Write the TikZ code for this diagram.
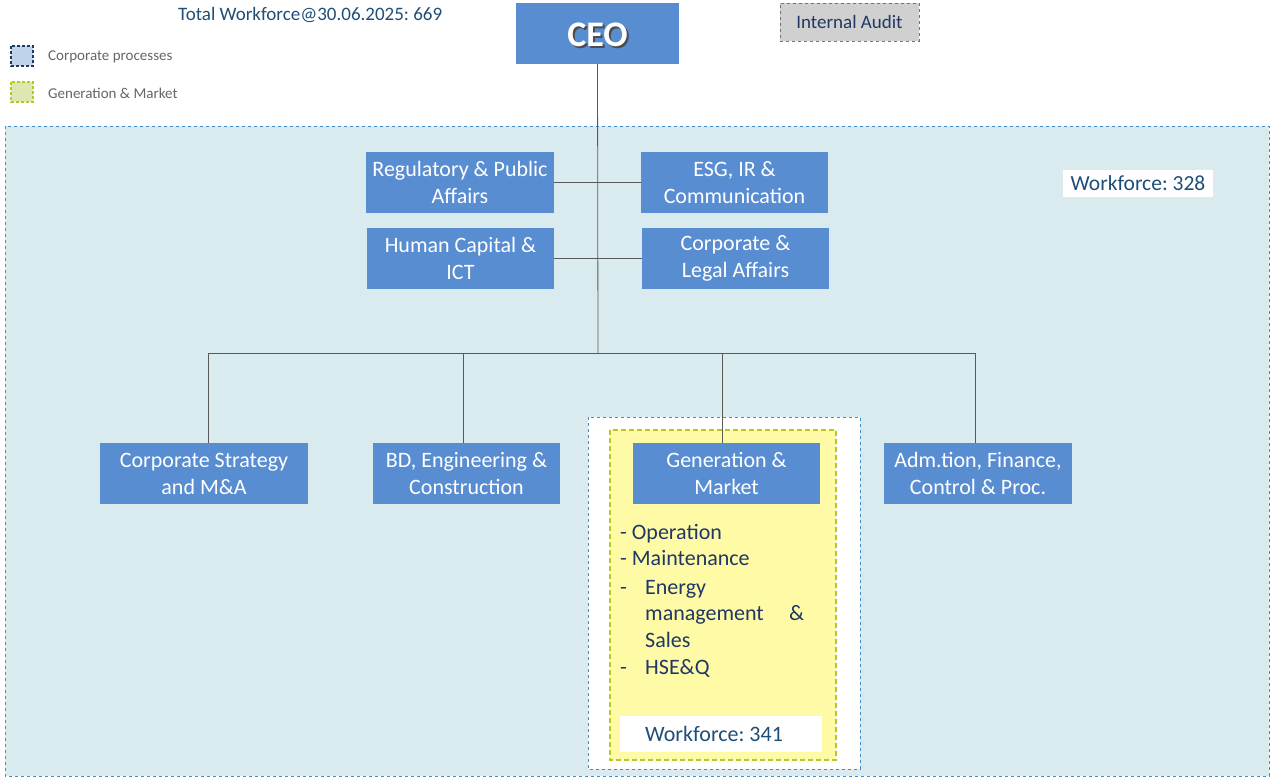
\documentclass[tikz,border=0pt]{standalone}
\usepackage{fontspec}
\setmainfont{Carlito}
\frenchspacing
\definecolor{boxblue}{RGB}{88,141,210}
\definecolor{bgcyan}{RGB}{218,235,239}
\definecolor{navy}{RGB}{31,56,100}
\definecolor{titleblue}{RGB}{31,78,121}
\definecolor{dashblue}{RGB}{70,140,200}
\definecolor{ylw}{RGB}{255,250,165}
\definecolor{ylwline}{RGB}{180,200,40}
\definecolor{lgray}{RGB}{208,208,208}
\definecolor{legblue}{RGB}{190,212,235}
\definecolor{leggreen}{RGB}{220,232,175}
\begin{document}
\begin{tikzpicture}[x=1pt,y=-1pt,
  unit/.style={fill=boxblue,text=white,font=\fontsize{22}{27}\selectfont,align=center,inner sep=0pt},
  conn/.style={draw=black!65,line width=0.8pt},
  listtxt/.style={text=navy,font=\fontsize{22}{26}\selectfont,anchor=base west,inner sep=0pt}]
\useasboundingbox (0,0) rectangle (1271,778);
\fill[white] (0,0) rectangle (1271,778);
% big corporate area
\draw[fill=bgcyan,draw=dashblue,dashed,line width=0.8pt] (5,126) rectangle (1269,776);
% title and legend
\node[text=titleblue,font=\fontsize{19}{22}\selectfont,anchor=west,inner sep=0pt] (title) at (178,15) {Total Workforce@30.06.2025: 669};
\draw[fill=legblue,draw=navy,dashed,line width=1.3pt,dash pattern=on 3pt off 2pt] (11,46) rectangle (33,66);
\draw[fill=leggreen,draw=ylwline,dashed,line width=1.3pt,dash pattern=on 3pt off 2pt] (11,82) rectangle (33,102);
\node[text=black!60,font=\fontsize{15}{17}\selectfont,anchor=west,inner sep=0pt] (lg1) at (48,57) {Corporate processes};
\node[text=black!60,font=\fontsize{15}{17}\selectfont,anchor=west,inner sep=0pt] (lg2) at (48,93) {Generation \& Market};
% CEO
\node[fill=boxblue,minimum width=163pt,minimum height=61pt,inner sep=0pt] (ceo) at (597.5,33.5) {};
\node[text=black!70,font=\fontsize{36}{40}\selectfont\bfseries] (ceoshadow) at (599.5,36.5) {CEO};
\node[text=white,font=\fontsize{36}{40}\selectfont\bfseries] (ceotext) at (597.5,34.5) {CEO};
% Internal audit
\node[fill=lgray,draw=black!55,dashed,line width=0.8pt,minimum width=139pt,minimum height=38pt,inner sep=0pt,text=navy,font=\fontsize{19}{22}\selectfont] (audit) at (849.5,22) {Internal Audit};
% staff units
\node[unit,minimum width=188pt,minimum height=61pt] (reg) at (460,182.5) {Regulatory \& Public\\Affairs};
\node[unit,minimum width=187pt,minimum height=61pt] (esg) at (734.5,182.5) {ESG, IR \&\\Communication};
\node[unit,minimum width=187pt,minimum height=61pt] (hc) at (460.5,258.5) {Human Capital \&\\ICT};
\node[unit,minimum width=187pt,minimum height=61pt] (cla) at (735.5,258.5) {Corporate \&\\Legal Affairs};
% workforce 328
\node[fill=white,text=titleblue,font=\fontsize{21.5}{24}\selectfont,minimum width=150pt,minimum height=27pt,inner sep=0pt] (wf328) at (1138,183.5) {Workforce: 328};
% white dashed container and yellow
\draw[fill=white,draw=dashblue,dashed,line width=0.8pt] (588,417) rectangle (860,769);
\draw[fill=ylw,draw=ylwline,dashed,line width=1.5pt,dash pattern=on 5pt off 3pt] (610,430) rectangle (836,760);
% bottom row
\node[unit,minimum width=208pt,minimum height=61pt] (cs) at (204,473.5) {Corporate Strategy\\and M\&A};
\node[unit,minimum width=187pt,minimum height=61pt] (bd) at (466.5,473.5) {BD, Engineering \&\\Construction};
\node[unit,minimum width=187pt,minimum height=61pt] (gm) at (726.5,473.5) {Generation \&\\Market};
\node[unit,minimum width=188pt,minimum height=61pt] (adm) at (978,473.5) {Adm.tion, Finance,\\Control \& Proc.};
% list
\node[listtxt] (l1) at (620,539) {- Operation};
\node[listtxt] (l2) at (620,565) {- Maintenance};
\node[listtxt] (l3) at (620,594) {-};
\node[listtxt] (l3b) at (645,594) {Energy};
\node[listtxt] (l4) at (645,620) {management};
\node[listtxt] (l4b) at (789,620) {\&};
\node[listtxt] (l5) at (645,647) {Sales};
\node[listtxt] (l6) at (620,674) {-};
\node[listtxt] (l6b) at (645,674) {HSE\&Q};
\node[fill=white,minimum width=202pt,minimum height=36pt,inner sep=0pt] (wf341) at (721,734) {};
\node[listtxt,text=titleblue] (wf341t) at (645,741) {Workforce: 341};
% connectors
\coordinate (bus) at (598,353);
\coordinate (busL) at (208,353);
\coordinate (busR) at (975,353);
\draw[conn] (ceo.south) -- (bus);
\draw[conn] (reg.east) -- (esg.west);
\draw[conn] (hc.east) -- (cla.west);
\draw[conn] (busL) -- (busR);
\draw[conn] (busL) -- (busL |- cs.north);
\draw[conn] (463,353) -- (463,443);
\draw[conn] (722,353) -- (722,443);
\draw[conn] (busR) -- (busR |- adm.north);
\end{tikzpicture}
\end{document}
